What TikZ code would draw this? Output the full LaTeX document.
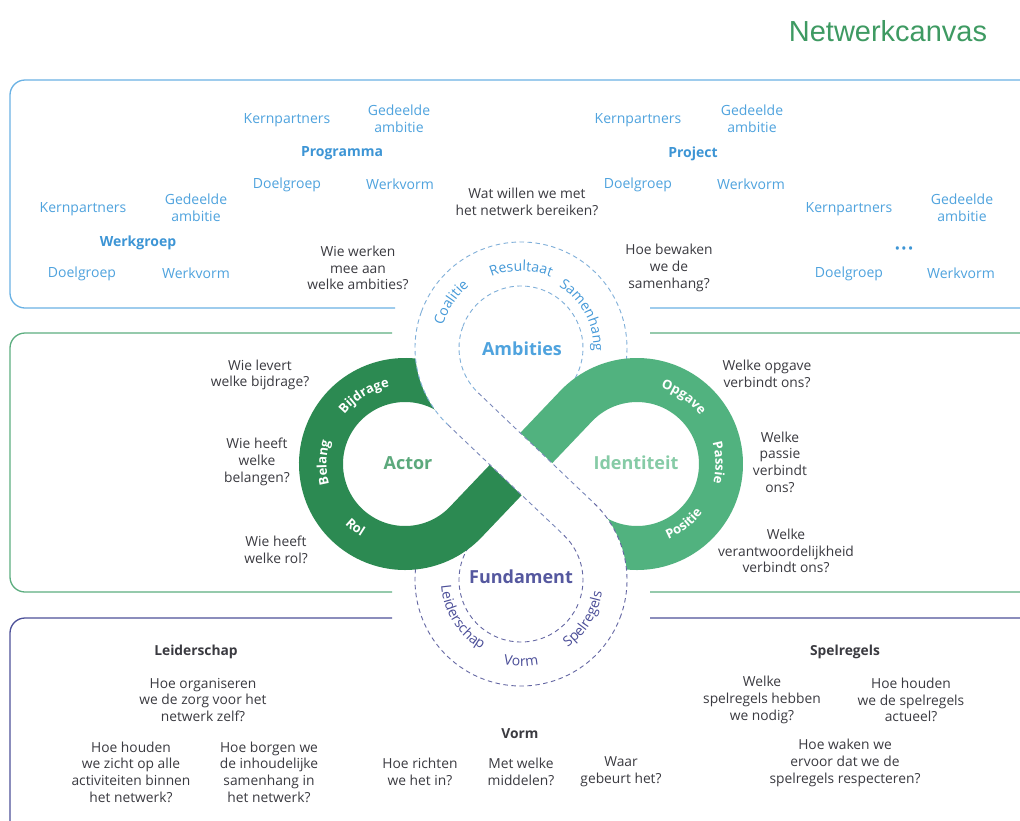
\documentclass[tikz,border=0pt]{standalone}
\usepackage{fontspec}
\setmainfont{Open Sans}
\newfontfamily\titlefont{Liberation Sans}
\usetikzlibrary{decorations.text}
\definecolor{cblue}{HTML}{4FA3DE}
\definecolor{cblueb}{HTML}{3D95D5}
\definecolor{bandblue}{HTML}{4599D8}
\definecolor{boxblue}{HTML}{6AB2E4}
\definecolor{boxgreen}{HTML}{5DAE80}
\definecolor{boxnavy}{HTML}{4D5199}
\definecolor{gdark}{HTML}{2C8A52}
\definecolor{glight}{HTML}{51B27F}
\definecolor{tactor}{HTML}{5CA97C}
\definecolor{tident}{HTML}{86CBA6}
\definecolor{tnavy}{HTML}{55589F}
\definecolor{bandnavy}{HTML}{4B4E98}
\definecolor{qgray}{HTML}{3A3A40}
\definecolor{titlegreen}{HTML}{3E9A62}
\definecolor{dashb}{HTML}{7FAFD9}
\definecolor{dashm}{HTML}{7A88BA}
\definecolor{dashn}{HTML}{6467A3}
\newcommand\ringfont{\fontsize{13}{13}\selectfont\bfseries}
\newcommand\bandfont{\fontsize{14}{14}\selectfont}
\begin{document}
\begin{tikzpicture}[x=1pt,y=1pt,
  lbl/.style={font=\fontsize{14}{17}\selectfont, text=cblue, align=center, inner sep=0pt},
  hdr/.style={font=\fontsize{14}{17}\selectfont\bfseries, text=cblueb, inner sep=0pt},
  qst/.style={font=\fontsize{13.8}{16.7}\selectfont, text=qgray, align=center, inner sep=0pt},
  qhd/.style={font=\fontsize{13.8}{16.7}\selectfont\bfseries, text=qgray, inner sep=0pt},
  ctr/.style={font=\fontsize{18}{20}\selectfont\bfseries, inner sep=0pt},
  boxline/.style={line width=1.3pt, rounded corners=15pt},
  wband/.style={draw=white, line width=44pt},
  dsh/.style={line width=0.9pt, dash pattern=on 4.5pt off 3.5pt},
  gband/.style={line width=44pt},
]
\useasboundingbox (0,0) rectangle (1020,-820);
\clip (0,0) rectangle (1020,-820);
\fill[white] (0,0) rectangle (1020,-820);

% centres
\coordinate (M) at (521,-464);
\coordinate (L) at (405,-464);
\coordinate (RC) at (637,-464);
\coordinate (CA) at (521,-348);
\coordinate (CF) at (521,-580);

% boxes
\draw[boxline, boxblue] (395,-308) -- (10,-308) -- (10,-80) -- (1060,-80) -- (1060,-308) -- (650,-308);
\draw[boxline, boxgreen] (392,-333) -- (10,-333) -- (10,-592) -- (392,-592);
\draw[boxline, boxgreen] (650,-333) -- (1060,-333) -- (1060,-592) -- (650,-592);
\draw[boxline, boxnavy] (392,-618) -- (10,-618) -- (10,-870);
\draw[boxline, boxnavy] (650,-618) -- (1060,-618) -- (1060,-870);

% title
\node[font=\titlefont\fontsize{29}{29}\selectfont, text=titlegreen, inner sep=0pt] (title) at (888,-31) {Netwerkcanvas};

% white band, lower layer
\draw[wband] ([shift={(160:84)}]CA) arc[start angle=160, end angle=-32, radius=84];
\draw[wband] ([shift={(148:84)}]CF) arc[start angle=148, end angle=340, radius=84];
\draw[dsh, dashb] ([shift={(160:106)}]CA) arc[start angle=160, end angle=-32, radius=106];
\draw[dsh, dashb] ([shift={(160:62)}]CA) arc[start angle=160, end angle=-32, radius=62];
\draw[dsh, dashn] ([shift={(148:106)}]CF) arc[start angle=148, end angle=340, radius=106];
\draw[dsh, dashn] ([shift={(148:62)}]CF) arc[start angle=148, end angle=340, radius=62];

% green band
\draw[gband, gdark] ([shift={(58:84)}]L) arc[start angle=58, end angle=316.4, radius=84] -- (M);
\draw[gband, glight] (M) -- ([shift={(136.4:84)}]RC) arc[start angle=136.4, end angle=-122, radius=84];

% white band, upper layer (NW-SE diagonal)
\draw[wband] ([shift={(160:84)}]CA) arc[start angle=160, end angle=226.4, radius=84] -- ([shift={(46.4:84)}]CF) arc[start angle=46.4, end angle=-20, radius=84];
\draw[dsh, dashb] ([shift={(160:106)}]CA) arc[start angle=160, end angle=226.4, radius=106];
\draw[dsh, dashm] ([shift={(226.4:106)}]CA) -- ([shift={(46.4:62)}]CF);
\draw[dsh, dashn] ([shift={(46.4:62)}]CF) arc[start angle=46.4, end angle=-20, radius=62];
\draw[dsh, dashb] ([shift={(160:62)}]CA) arc[start angle=160, end angle=226.4, radius=62];
\draw[dsh, dashm] ([shift={(226.4:62)}]CA) -- ([shift={(46.4:106)}]CF);
\draw[dsh, dashn] ([shift={(46.4:106)}]CF) arc[start angle=46.4, end angle=-20, radius=106];

% ring labels
\path[decorate, decoration={text along path, text color=white, text align=center, text={|\ringfont|Bijdrage}}] ([shift={(171:78.5)}]L) arc[start angle=171, end angle=71, radius=78.5];
\path[decorate, decoration={text along path, text color=white, text align=center, text={|\ringfont|Belang}}] ([shift={(229:78.5)}]L) arc[start angle=229, end angle=129, radius=78.5];
\path[decorate, decoration={text along path, text color=white, text align=center, text={|\ringfont|Rol}}] ([shift={(192:85)}]L) arc[start angle=192, end angle=272, radius=85];
\path[decorate, decoration={text along path, text color=white, text align=center, text={|\ringfont|Opgave}}] ([shift={(105:79.5)}]RC) arc[start angle=105, end angle=5, radius=79.5];
\path[decorate, decoration={text along path, text color=white, text align=center, text={|\ringfont|Passie}}] ([shift={(51:78.5)}]RC) arc[start angle=51, end angle=-49, radius=78.5];
\path[decorate, decoration={text along path, text color=white, text align=center, text={|\ringfont|Positie}}] ([shift={(-102:81.5)}]RC) arc[start angle=-102, end angle=-2, radius=81.5];

% band labels
\path[decorate, decoration={text along path, text color=bandblue, text align=center, text={|\bandfont|Coalitie}}] ([shift={(197:81)}]CA) arc[start angle=197, end angle=97, radius=81];
\path[decorate, decoration={text along path, text color=bandblue, text align=center, text={|\bandfont|Resultaat}}] ([shift={(140:77)}]CA) arc[start angle=140, end angle=40, radius=77];
\path[decorate, decoration={text along path, text color=bandblue, text align=center, text={|\bandfont|Samenhang}}] ([shift={(78:72.5)}]CA) arc[start angle=78, end angle=-22, radius=72.5];
\path[decorate, decoration={text along path, text color=bandnavy, text align=center, text={|\bandfont|Leiderschap}}] ([shift={(162:80)}]CF) arc[start angle=162, end angle=262, radius=80];
\path[decorate, decoration={text along path, text color=bandnavy, text align=center, text={|\bandfont|Vorm}}] ([shift={(220:86)}]CF) arc[start angle=220, end angle=320, radius=86];
\path[decorate, decoration={text along path, text color=bandnavy, text align=center, text={|\bandfont|Spelregels}}] ([shift={(278:82)}]CF) arc[start angle=278, end angle=378, radius=82];

% centre labels
\node[ctr, text=cblue] (amb) at (522,-349) {Ambities};
\node[ctr, text=tnavy] (fund) at (521,-577) {Fundament};
\node[ctr, text=tactor] (actor) at (408,-463) {Actor};
\node[ctr, text=tident] (ident) at (636,-463) {Identiteit};

% top box labels
\node[lbl] (pKern) at (287,-120) {Kernpartners};
\node[lbl] (pGed) at (399,-119) {Gedeelde\\ambitie};
\node[hdr] (pProg) at (342,-153) {Programma};
\node[lbl] (pDoel) at (287,-185) {Doelgroep};
\node[lbl] (pWerk) at (400,-184) {Werkvorm};
\node[lbl] (wKern) at (83,-209) {Kernpartners};
\node[lbl] (wGed) at (196,-208) {Gedeelde\\ambitie};
\node[hdr] (wWg) at (138,-243) {Werkgroep};
\node[lbl] (wDoel) at (82,-274) {Doelgroep};
\node[lbl] (wWerk) at (196,-273) {Werkvorm};
\node[lbl] (jKern) at (638,-120) {Kernpartners};
\node[lbl] (jGed) at (752,-119) {Gedeelde\\ambitie};
\node[hdr] (jProj) at (693,-154) {Project};
\node[lbl] (jDoel) at (638,-185) {Doelgroep};
\node[lbl] (jWerk) at (751,-184) {Werkvorm};
\node[lbl] (xKern) at (849,-209) {Kernpartners};
\node[lbl] (xGed) at (962,-208) {Gedeelde\\ambitie};
\node[hdr, font=\fontsize{11}{11}\selectfont\bfseries] (xDots) at (904,-250) {•\hspace{2.5pt}•\hspace{2.5pt}•};
\node[lbl] (xDoel) at (849,-274) {Doelgroep};
\node[lbl] (xWerk) at (961,-273) {Werkvorm};

% questions
\node[qst] (qWat) at (527,-202) {Wat willen we met\\het netwerk bereiken?};
\node[qst] (qWie) at (358,-268) {Wie werken\\mee aan\\welke ambities?};
\node[qst] (qHoe) at (669,-268) {Hoe bewaken\\we de\\samenhang?};
\node[qst] (qLev) at (260,-375) {Wie levert\\welke bijdrage?};
\node[qst] (qBel) at (257,-462) {Wie heeft\\welke\\belangen?};
\node[qst] (qRol) at (276,-550) {Wie heeft\\welke rol?};
\node[qst] (qOpg) at (767,-374) {Welke opgave\\verbindt ons?};
\node[qst] (qPas) at (780,-462) {Welke\\passie\\verbindt\\ons?};
\node[qst] (qVer) at (786,-551) {Welke\\verantwoordelijkheid\\verbindt ons?};

\node[qhd] (hLei) at (196,-652) {Leiderschap};
\node[qst] (qOrg) at (203,-700) {Hoe organiseren\\we de zorg voor het\\netwerk zelf?};
\node[qst] (qZicht) at (131,-772) {Hoe houden\\we zicht op alle\\activiteiten binnen\\het netwerk?};
\node[qst] (qBorg) at (269,-772) {Hoe borgen we\\de inhoudelijke\\samenhang in\\het netwerk?};
\node[qhd] (hVorm) at (520,-734) {Vorm};
\node[qst] (qRicht) at (420,-772) {Hoe richten\\we het in?};
\node[qst] (qMid) at (521,-772) {Met welke\\middelen?};
\node[qst] (qWaar) at (621,-772) {Waar\\gebeurt het?};
\node[qhd] (hSpel) at (845,-652) {Spelregels};
\node[qst] (qNodig) at (762,-700) {Welke\\spelregels hebben\\we nodig?};
\node[qst] (qAct) at (911,-700) {Hoe houden\\we de spelregels\\actueel?};
\node[qst] (qWaak) at (845,-763) {Hoe waken we\\ervoor dat we de\\spelregels respecteren?};
\end{tikzpicture}
\end{document}
